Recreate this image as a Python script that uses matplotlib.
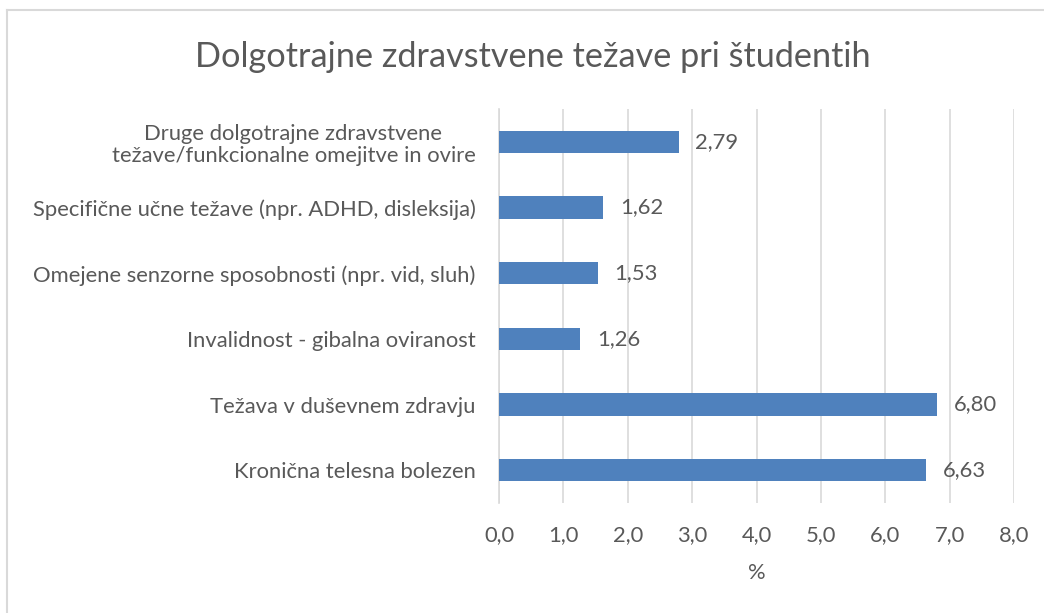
import matplotlib.pyplot as plt
from matplotlib.lines import Line2D

# Podatki
kategorije = [
    'Kronična telesna bolezen',
    'Težava v duševnem zdravju',
    'Invalidnost - gibalna oviranost',
    'Omejene senzorne sposobnosti (npr. vid, sluh)',
    'Specifične učne težave (npr. ADHD, disleksija)',
    'Druge dolgotrajne zdravstvene\ntežave/funkcionalne omejitve in ovire',
]
vrednosti = [6.63, 6.80, 1.26, 1.53, 1.62, 2.79]
x_ticks = [0, 1, 2, 3, 4, 5, 6, 7, 8]

plt.rcParams['font.family'] = ['Lato', 'DejaVu Sans']
siva = '#595959'
fs = 15.8

fig = plt.figure(figsize=(10.44, 6.13), dpi=100)
ax = fig.add_axes([0.478, 0.1794, 0.4933, 0.6427])

y = range(len(kategorije))
ax.barh(y, vrednosti, height=0.34, color='#4f81bd', zorder=3)

for i, v in enumerate(vrednosti):
    ax.text(v + 0.26, i, f'{v:.2f}'.replace('.', ','), va='center', ha='left',
            fontsize=fs, color=siva)

ax.set_xlim(0, 8)
ax.set_ylim(-0.5, 5.5)
ax.set_xticks(x_ticks)
ax.set_xticklabels([f'{t:.1f}'.replace('.', ',') for t in x_ticks], fontsize=fs, color=siva)
ax.set_yticks(list(y))
ax.set_yticklabels(kategorije, fontsize=fs, color=siva, multialignment='center',
                   linespacing=1.15)
ax.tick_params(axis='both', length=0)
ax.tick_params(axis='x', pad=16)
ax.tick_params(axis='y', pad=17)

ax.grid(axis='x', color='#d9d9d9', linewidth=1.2, zorder=0)
for s in ['top', 'right', 'bottom']:
    ax.spines[s].set_visible(False)
ax.spines['left'].set_color('#d9d9d9')
ax.spines['left'].set_linewidth(1.2)

ax.set_xlabel('%', fontsize=fs, color=siva, labelpad=13)

fig.text(0.5105, 0.907, 'Dolgotrajne zdravstvene težave pri študentih', ha='center', va='center',
         fontsize=24.7, color=siva)

# okvir grafa (levo in zgoraj)
fig.add_artist(Line2D([7 / 1044, 7 / 1044], [0, 1 - 10 / 613], color='#d9d9d9', linewidth=1.5,
                      transform=fig.transFigure))
fig.add_artist(Line2D([7 / 1044, 1], [1 - 10 / 613, 1 - 10 / 613], color='#d9d9d9', linewidth=1.5,
                      transform=fig.transFigure))

fig.savefig('out.png', dpi=100)
